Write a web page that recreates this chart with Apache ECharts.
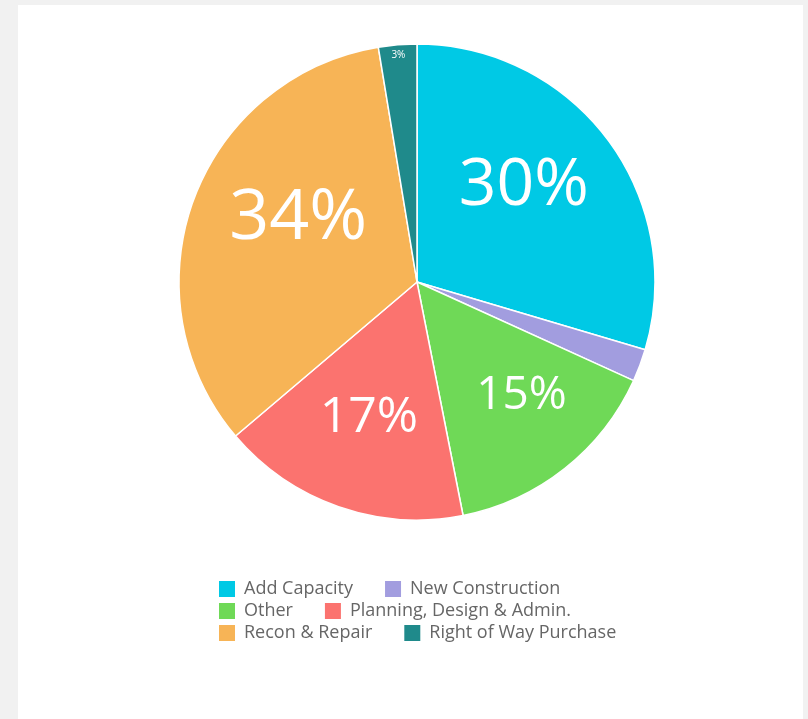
<!DOCTYPE html>
<html>
<head>
<meta charset="utf-8">
<script src="https://cdn.jsdelivr.net/npm/echarts@6/dist/echarts.min.js"></script>
<style>
  html, body { margin: 0; padding: 0; background: #f1f1f1; }
  #panel { position: absolute; left: 18px; top: 5px; width: 785px; height: 714px; background: #ffffff; }
  #chart { position: absolute; left: 0; top: 0; width: 808px; height: 719px; }
</style>
</head>
<body>
<div id="panel"></div>
<div id="chart"></div>
<script>
// ---- data ----
const categories = ['Add Capacity', 'New Construction', 'Other', 'Planning, Design & Admin.', 'Recon & Repair', 'Right of Way Purchase'];
const values = [29.6, 2.2, 15.1, 16.9, 33.6, 2.6];
// legend rows (two entries per row, as in the reference)
const legendRows = [
  ['Add Capacity', 'New Construction'],
  ['Other', 'Planning, Design & Admin.'],
  ['Recon & Repair', 'Right of Way Purchase']
];

// ---- styles ----
const colors = ['#00c9e5', '#a29ddf', '#6fd957', '#fb736f', '#f7b456', '#1f8a8b'];
const labelFontSizes = [66, 0, 46, 50, 70, 10];
const labelNudges = [[-10, -9], [0, 0], [14, 0], [0, -2], [18, -13], [0, 0]];

const chart = echarts.init(document.getElementById('chart'), null, { renderer: 'canvas' });

const center = [417, 282];
const R = 238;

const baseData = categories.map((name, i) => ({
  name: name,
  value: values[i],
  itemStyle: { color: colors[i] }
}));

function labelData() {
  return categories.map((name, i) => ({
    name: name,
    value: values[i],
    itemStyle: { color: 'rgba(0,0,0,0)', borderWidth: 0 },
    label: { fontSize: labelFontSizes[i] || 10, offset: labelNudges[i] }
  }));
}

function fmt(showFn) {
  return function (p) {
    return showFn(p.percent) ? Math.round(p.percent) + '%' : '';
  };
}

const legends = legendRows.map((row, r) => ({
  left: 217,
  top: 579 + r * 22,
  padding: 0,
  orient: 'horizontal',
  data: row,
  itemWidth: 18,
  itemHeight: 18,
  itemGap: 30,
  icon: 'rect',
  textStyle: {
    fontFamily: 'Open Sans',
    fontSize: 18,
    color: '#666666',
    padding: [0, 0, 0, 3]
  }
}));

const option = {
  animation: false,
  backgroundColor: 'transparent',
  legend: legends,
  series: [
    {
      type: 'pie',
      center: center,
      radius: [0, R],
      startAngle: 90,
      clockwise: true,
      silent: true,
      data: baseData,
      label: { show: false },
      labelLine: { show: false },
      itemStyle: { borderColor: '#ffffff', borderWidth: 1.5 }
    },
    {
      type: 'pie',
      center: center,
      radius: [R * 0.2, R],
      startAngle: 90,
      clockwise: true,
      silent: true,
      data: labelData(),
      label: {
        show: true,
        position: 'inside',
        color: '#ffffff',
        fontFamily: 'Open Sans',
        formatter: fmt(p => p >= 10)
      },
      labelLine: { show: false }
    },
    {
      type: 'pie',
      center: center,
      radius: [R - 26, R],
      startAngle: 90,
      clockwise: true,
      silent: true,
      data: labelData(),
      label: {
        show: true,
        position: 'inside',
        color: '#ffffff',
        fontFamily: 'Open Sans',
        formatter: fmt(p => p >= 2.5 && p < 10)
      },
      labelLine: { show: false }
    }
  ]
};

chart.setOption(option);
</script>
</body>
</html>
